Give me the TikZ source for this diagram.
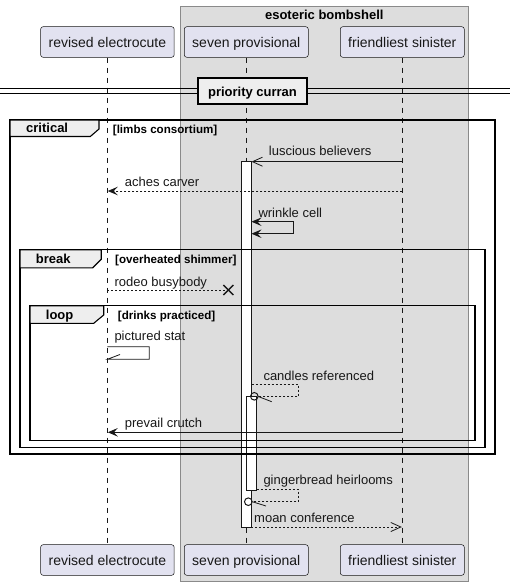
\documentclass[tikz,border=0pt]{standalone}
\usepackage{fontspec}
\setmainfont{Liberation Sans}
\usetikzlibrary{arrows.meta,calc}
\definecolor{partfill}{HTML}{E2E2F0}
\definecolor{ink}{HTML}{181818}
\definecolor{boxfill}{HTML}{DDDDDD}
\definecolor{boxline}{HTML}{8A8A8A}
\definecolor{tabfill}{HTML}{EEEEEE}
\tikzset{
  part/.style={draw=ink, fill=partfill, rounded corners=2.5pt, line width=0.5pt, minimum height=30.6pt, inner sep=0pt, text height=12.4pt, text depth=1pt, font=\fontsize{14}{16}\selectfont, text=ink},
  lifeline/.style={draw=ink, line width=0.5pt, dash pattern=on 5pt off 5pt},
  msg/.style={draw=ink, line width=0.8pt},
  dmsg/.style={draw=ink, line width=0.8pt, dash pattern=on 2pt off 2pt},
  mlabel/.style={anchor=base west, inner sep=0pt, font=\fontsize{13}{15}\selectfont, text=ink},
  frameline/.style={draw=black, line width=1.5pt},
  tabshape/.style={draw=black, fill=tabfill, line width=1.1pt},
  tablabel/.style={anchor=base west, inner sep=0pt, font=\bfseries\fontsize{13}{15}\selectfont},
  guard/.style={anchor=base west, inner sep=0pt, font=\bfseries\fontsize{11.6}{13}\selectfont},
  actbar/.style={draw=ink, fill=white, line width=1pt},
  filledtip/.tip={Stealth[length=10pt,width=8.5pt,inset=4pt]},
  opentip/.tip={Straight Barb[length=10pt,width=9pt,line width=0.8pt]},
}
\begin{document}
\begin{tikzpicture}[x=1pt,y=-1pt]
\useasboundingbox (0,0) rectangle (510,586);
% group box
\draw[fill=boxfill, draw=boxline, line width=1pt] (180.3,6.3) rectangle (468.3,581.3);
\node[font=\bfseries\fontsize{13}{15}\selectfont, inner sep=0pt] (grp) at (324.3,15) {esoteric bombshell};
% participants
\node[part, minimum width=133.6pt] (re_top) at (107.4,42) {revised electrocute};
\node[part, minimum width=124pt] (sp_top) at (246.3,42) {seven provisional};
\node[part, minimum width=124pt] (fs_top) at (402.3,42) {friendliest sinister};
\node[part, minimum width=133.6pt] (re_bot) at (107.4,560) {revised electrocute};
\node[part, minimum width=124pt] (sp_bot) at (246.3,560) {seven provisional};
\node[part, minimum width=124pt] (fs_bot) at (402.3,560) {friendliest sinister};
\draw[lifeline] (re_top.south) -- (re_bot.north);
\draw[lifeline] (sp_top.south) -- (sp_bot.north);
\draw[lifeline] (fs_top.south) -- (fs_bot.north);
% divider
\coordinate (dl) at (0,88);
\coordinate (dr) at (510,88);
\coordinate (dl2) at (0,93);
\coordinate (dr2) at (510,93);
\draw[line width=1pt] (dl) -- (dr);
\draw[line width=1pt] (dl2) -- (dr2);
\node[draw=black, fill=tabfill, line width=2pt, minimum width=108.4pt, minimum height=25.7pt, inner sep=0pt, text height=11pt, text depth=1.4pt, font=\bfseries\fontsize{13}{15}\selectfont] (div) at (252.5,91.2) {priority curran};
% activations
\draw[actbar] (241.3,161.7) rectangle (251,527);
\draw[actbar] (246.7,396.7) rectangle (256.7,490);
% frames
\draw[frameline] (10,120) rectangle (495,454);
\draw[tabshape] (10,120) -- (99,120) -- (99,129) -- (90.3,136.5) -- (10,136.5) -- cycle;
\node[tablabel] (t1) at (26,132.8) {critical};
\node[guard] (g1) at (112.7,133.3) {[limbs consortium]};
\draw[frameline] (20,249.7) rectangle (485,447.5);
\draw[tabshape] (20,249.7) -- (101.2,249.7) -- (101.2,259.3) -- (92.7,267.8) -- (20,267.8) -- cycle;
\node[tablabel] (t2) at (35.7,263.3) {break};
\node[guard] (g2) at (115,263.3) {[overheated shimmer]};
\draw[frameline] (30,305.7) rectangle (475,440.3);
\draw[tabshape] (30,305.7) -- (103.7,305.7) -- (103.7,315) -- (93.7,323.3) -- (30,323.3) -- cycle;
\node[tablabel] (t3) at (45.7,319.4) {loop};
\node[guard] (g3) at (117.7,319.3) {[drinks practiced]};
% messages
\coordinate (m1a) at (402.3,161.7);
\coordinate (m1b) at (251.5,161.7);
\draw[msg, -opentip] (m1a) -- (m1b);
\node[mlabel] (l1) at (268.7,155.7) {luscious believers};
\coordinate (m2a) at (402.3,191);
\coordinate (m2b) at (107.8,191);
\draw[dmsg, -filledtip] (m2a) -- (m2b);
\node[mlabel] (l2) at (124.7,186.7) {aches carver};
\coordinate (m3a) at (251.5,221.7);
\coordinate (m3b) at (293.3,221.7);
\coordinate (m3c) at (293.3,233.7);
\coordinate (m3d) at (251.5,233.7);
\draw[msg, filledtip-filledtip] (m3a) -- (m3b) -- (m3c) -- (m3d);
\node[mlabel] (l3) at (258.3,217.3) {wrinkle cell};
\coordinate (m4a) at (107.3,290);
\coordinate (m4b) at (228.3,290);
\draw[dmsg] (m4a) -- (m4b);
\draw[draw=ink, line width=1.4pt] ($(m4b)+(-5,-5)$) -- ($(m4b)+(5,5)$);
\draw[draw=ink, line width=1.4pt] ($(m4b)+(-5,5)$) -- ($(m4b)+(5,-5)$);
\node[mlabel] (l4) at (114.3,286) {rodeo busybody};
\coordinate (m5a) at (107.3,346.7);
\coordinate (m5b) at (149.3,346.7);
\coordinate (m5c) at (149.3,359.3);
\coordinate (m5d) at (107.3,359.3);
\coordinate (m5e) at (120,354.5);
\draw[msg] (m5a) -- (m5b) -- (m5c) -- (m5d) -- (m5e);
\node[mlabel] (l5) at (114.3,340.7) {pictured stat};
\coordinate (m6a) at (251.5,384.3);
\coordinate (m6b) at (298.3,384.3);
\coordinate (m6c) at (298.3,396.5);
\coordinate (m6d) at (258.3,396.5);
\coordinate (m6o) at (254.3,396.3);
\coordinate (m6e) at (271.7,401.7);
\draw[dmsg] (m6a) -- (m6b) -- (m6c) -- (m6d);
\draw[draw=ink, line width=1pt] (m6o) circle (3.8);
\draw[draw=ink, line width=0.8pt] (m6d) -- (m6e);
\node[mlabel] (l6) at (263.3,380) {candles referenced};
\coordinate (m7a) at (402.3,432.3);
\coordinate (m7b) at (107.8,432.3);
\draw[msg, -filledtip] (m7a) -- (m7b);
\node[mlabel] (l7) at (124.7,427.7) {prevail crutch};
\coordinate (m8a) at (256.7,489.3);
\coordinate (m8b) at (298.3,489.3);
\coordinate (m8c) at (298.3,501.7);
\coordinate (m8d) at (252.3,501.7);
\coordinate (m8o) at (248.3,501.7);
\coordinate (m8e) at (266,506);
\draw[dmsg] (m8a) -- (m8b) -- (m8c) -- (m8d);
\draw[draw=ink, line width=1pt] (m8o) circle (3.8);
\draw[draw=ink, line width=0.8pt] (m8d) -- (m8e);
\node[mlabel] (l8) at (263.3,484) {gingerbread heirlooms};
\coordinate (m9a) at (251,527);
\coordinate (m9b) at (401.8,527);
\draw[dmsg, -opentip] (m9a) -- (m9b);
\node[mlabel] (l9) at (254,522.7) {moan conference};
\end{tikzpicture}
\end{document}
